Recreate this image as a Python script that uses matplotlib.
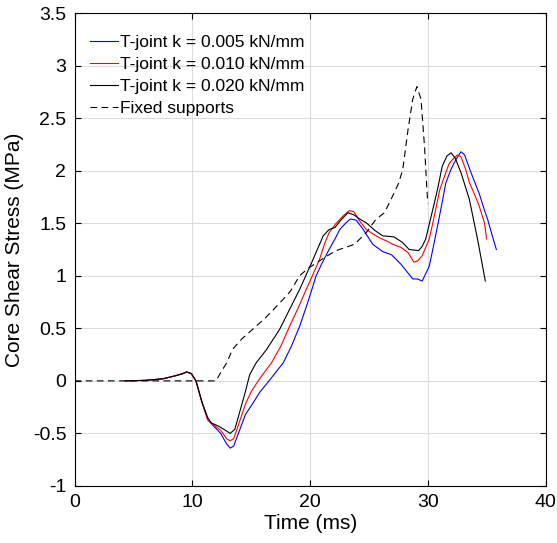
import matplotlib
matplotlib.use('Agg')
import matplotlib.pyplot as plt
import numpy as np

plt.rcParams['font.family'] = ['Liberation Sans', 'DejaVu Sans']

# T-joint k = 0.005 kN/mm
t_005 = [4.3, 6, 7.5, 8.6, 9.2, 9.5, 9.9, 10.3, 10.8, 11.3, 11.8, 12.4, 12.9, 13.2, 13.5, 13.9,
         14.5, 15.2, 15.7, 16.5, 17.2, 17.7, 18.4, 19.1, 19.8, 20.5, 21.0, 21.6, 22.1, 22.5, 23.0,
         23.4, 23.9, 24.5, 25.3, 26.15, 26.9, 27.7, 28.2, 28.7, 29.1, 29.5, 30.1, 30.4, 30.8, 31.2,
         31.5, 31.9, 32.2, 32.5, 32.8, 33.1, 33.65, 34.0, 34.35, 34.8, 35.05, 35.4, 35.8]
s_005 = [0, 0.005, 0.02, 0.05, 0.07, 0.085, 0.07, 0.0, -0.2, -0.37, -0.43, -0.5, -0.6, -0.64, -0.62, -0.5,
         -0.32, -0.2, -0.11, 0.0, 0.1, 0.17, 0.33, 0.52, 0.75, 1.0, 1.12, 1.25, 1.35, 1.44, 1.5,
         1.54, 1.53, 1.44, 1.3, 1.23, 1.2, 1.11, 1.04, 0.97, 0.97, 0.95, 1.09, 1.25, 1.47, 1.7,
         1.88, 2.0, 2.07, 2.13, 2.18, 2.15, 1.98, 1.88, 1.78, 1.62, 1.54, 1.4, 1.25]

# T-joint k = 0.010 kN/mm
t_010 = [4.3, 6, 7.5, 8.6, 9.2, 9.5, 9.9, 10.3, 10.8, 11.3, 11.8, 12.4, 12.9, 13.2, 13.5, 13.9,
         14.5, 15.0, 15.7, 16.7, 17.5, 18.25, 19.0, 19.66, 20.3, 20.8, 21.2, 21.6, 22.2, 22.8, 23.3,
         23.7, 24.2, 24.75, 25.3, 25.9, 26.5, 27.0, 27.7, 28.3, 28.8, 29.1, 29.5, 30.1, 30.4, 30.7,
         31.0, 31.5, 31.8, 32.2, 32.5, 32.8, 33.2, 33.5, 34.0, 34.35, 34.8, 34.97]
s_010 = [0, 0.005, 0.02, 0.05, 0.07, 0.085, 0.07, 0.0, -0.2, -0.37, -0.42, -0.47, -0.55, -0.57, -0.55, -0.42,
         -0.22, -0.1, 0.02, 0.17, 0.33, 0.52, 0.7, 0.87, 1.03, 1.16, 1.3, 1.41, 1.5, 1.57, 1.62,
         1.61, 1.52, 1.44, 1.4, 1.36, 1.33, 1.3, 1.27, 1.22, 1.13, 1.14, 1.19, 1.35, 1.5, 1.66,
         1.82, 1.98, 2.07, 2.12, 2.15, 2.13, 2.01, 1.89, 1.76, 1.66, 1.5, 1.35]

# T-joint k = 0.020 kN/mm
t_020 = [4.3, 6, 7.5, 8.6, 9.2, 9.5, 9.9, 10.3, 10.8, 11.3, 11.6, 12.2, 12.8, 13.2, 13.6, 14.0,
         14.5, 14.86, 15.4, 16.3, 17.4, 18.2, 19.1, 20.1, 20.6, 21.1, 21.6, 22.1, 22.6, 23.2, 23.7,
         24.2, 24.8, 25.5, 26.15, 27.1, 27.8, 28.4, 29.2, 29.5, 29.8, 30.4, 30.8, 31.2, 31.6, 31.95,
         32.3, 32.8, 33.5, 34.2, 34.86]
s_020 = [0, 0.005, 0.02, 0.05, 0.07, 0.085, 0.07, 0.0, -0.2, -0.35, -0.4, -0.43, -0.47, -0.5, -0.46, -0.3,
         -0.1, 0.06, 0.17, 0.3, 0.49, 0.67, 0.87, 1.12, 1.25, 1.38, 1.44, 1.46, 1.53, 1.6, 1.58,
         1.54, 1.5, 1.43, 1.38, 1.37, 1.32, 1.25, 1.24, 1.28, 1.35, 1.63, 1.82, 2.04, 2.14, 2.17,
         2.12, 1.98, 1.73, 1.35, 0.95]

# Fixed supports
t_fix = [0, 5, 9, 10.3, 12.0, 12.4, 12.9, 13.4, 14.2, 15.1, 16.2, 17.4, 18.3, 19.1, 19.8, 20.5,
         21.3, 22.2, 23.0, 23.75, 24.3, 24.75, 25.2, 25.6, 26.3, 27.0, 27.5, 27.85, 28.3, 28.7,
         29.05, 29.4, 29.7, 29.97]
s_fix = [0, 0, 0, 0, 0, 0.08, 0.17, 0.3, 0.4, 0.49, 0.6, 0.74, 0.85, 1.0, 1.07, 1.12,
         1.18, 1.24, 1.27, 1.3, 1.36, 1.41, 1.48, 1.54, 1.6, 1.76, 1.88, 2.01, 2.39, 2.68,
         2.8, 2.68, 2.23, 1.69]

labels = ['T-joint k = 0.005 kN/mm', 'T-joint k = 0.010 kN/mm',
          'T-joint k = 0.020 kN/mm', 'Fixed supports']

fig = plt.figure(figsize=(5.57, 5.43), dpi=100)
ax = fig.add_axes([0.134, 0.105, 0.846, 0.871])

ax.plot(t_005, s_005, color='blue', lw=0.8, label=labels[0])
ax.plot(t_010, s_010, color='red', lw=0.8, label=labels[1])
ax.plot(t_020, s_020, color='black', lw=0.8, label=labels[2])
ax.plot(t_fix, s_fix, color='black', lw=0.8, linestyle=(0, (6, 4)), label=labels[3])

ax.set_xlim(0, 40)
ax.set_ylim(-1, 3.5)
ax.set_xticks([0, 10, 20, 30, 40])
ax.set_yticks(np.arange(-1, 3.51, 0.5))
ax.set_yticklabels(['-1', '-0.5', '0', '0.5', '1', '1.5', '2', '2.5', '3', '3.5'])
ax.grid(True, color='#dcdcdc', lw=0.8)
ax.set_axisbelow(True)
ax.tick_params(direction='in', top=True, right=True, labelsize=14, length=4, pad=6)
for sp in ax.spines.values():
    sp.set_linewidth(0.8)

ax.set_xlabel('Time (ms)', fontsize=15, labelpad=2)
ax.set_ylabel('Core Shear Stress (MPa)', fontsize=15, labelpad=6)

ax.legend(loc='upper left', frameon=False, fontsize=12.5, handlelength=1.6,
          handletextpad=0.1, labelspacing=0.4, borderaxespad=0.5,
          bbox_to_anchor=(0.0, 0.987))

fig.savefig('out.png', dpi=100)
